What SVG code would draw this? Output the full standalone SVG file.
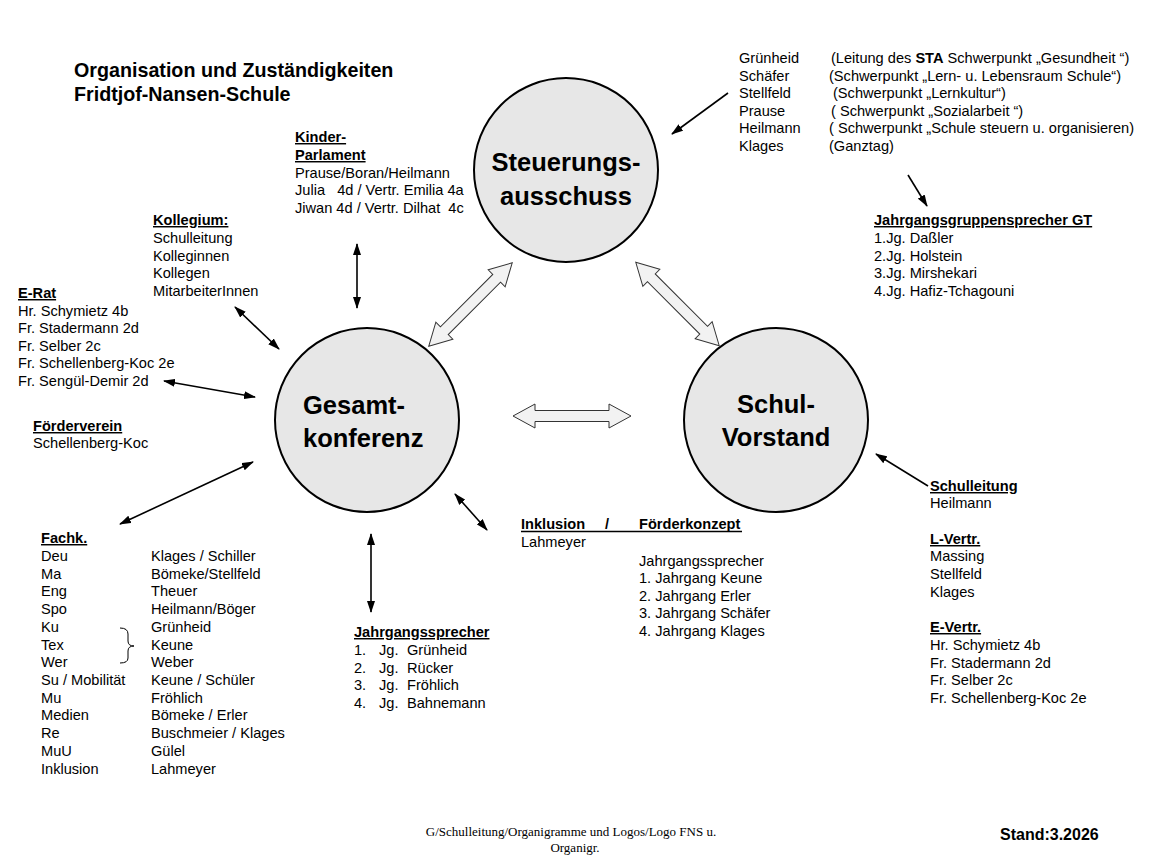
<svg xmlns="http://www.w3.org/2000/svg" width="1163" height="865" viewBox="0 0 1163 865">
<defs>
<marker id="ah" viewBox="0 0 12 8" refX="11" refY="4" markerWidth="12" markerHeight="8" markerUnits="userSpaceOnUse" orient="auto-start-reverse">
<path d="M0,0 L12,4 L0,8 Z" fill="#000"/>
</marker>
<path id="dbl" d="M-59,0 L-37,-12 L-37,-5.5 L37,-5.5 L37,-12 L59,0 L37,12 L37,5.5 L-37,5.5 L-37,12 Z"/>
</defs>
<style>
text{font-family:"Liberation Sans",Arial,sans-serif;font-size:14.6px;fill:#000}
.t{font-size:19.7px;font-weight:bold}
.c{font-size:25.5px;font-weight:bold}
.h{font-weight:bold;text-decoration:underline}
.b{font-weight:bold}
.st{font-weight:bold;font-size:16px}
.ft{font-family:"Liberation Serif","Times New Roman",serif;font-size:13px}
.circ{fill:#e7e7e7;stroke:#000;stroke-width:2}
.ln{stroke:#000;stroke-width:1.6;fill:none}
.big{fill:#f2f2f2;stroke:#333;stroke-width:1}
</style>
<rect width="1163" height="865" fill="#fff"/>

<g id="title">
<text class="t" x="74" y="77">Organisation und Zuständigkeiten</text>
<text class="t" x="74" y="101">Fridtjof-Nansen-Schule</text>
</g>

<g id="steuerungsausschuss">
<circle class="circ" cx="566" cy="170" r="92"/>
<text class="c" x="566" y="171" text-anchor="middle">Steuerungs-</text>
<text class="c" x="566" y="205" text-anchor="middle">ausschuss</text>
</g>

<g id="gesamtkonferenz">
<circle class="circ" cx="367" cy="420" r="92"/>
<text class="c" x="303" y="414">Gesamt-</text>
<text class="c" x="303" y="447">konferenz</text>
</g>

<g id="schulvorstand">
<circle class="circ" cx="776" cy="420" r="92"/>
<text class="c" x="776" y="413" text-anchor="middle">Schul-</text>
<text class="c" x="776" y="446" text-anchor="middle">Vorstand</text>
</g>

<g id="sta-members">
<text x="739" y="63">Grünheid</text><text x="831" y="63">(Leitung des <tspan class="b">STA</tspan> Schwerpunkt „Gesundheit “)</text>
<text x="739" y="81">Schäfer</text><text x="829" y="81">(Schwerpunkt „Lern- u. Lebensraum Schule“)</text>
<text x="739" y="98">Stellfeld</text><text x="833" y="98">(Schwerpunkt „Lernkultur“)</text>
<text x="739" y="116">Prause</text><text x="831" y="116">( Schwerpunkt „Sozialarbeit “)</text>
<text x="739" y="133">Heilmann</text><text x="829" y="133">( Schwerpunkt „Schule steuern u. organisieren)</text>
<text x="739" y="151">Klages</text><text x="829" y="151">(Ganztag)</text>
</g>

<g id="jahrgangsgruppensprecher">
<text class="h" x="874" y="225">Jahrgangsgruppensprecher GT</text>
<text x="874" y="243">1.Jg. Daßler</text>
<text x="874" y="261">2.Jg. Holstein</text>
<text x="874" y="278">3.Jg. Mirshekari</text>
<text x="874" y="296">4.Jg. Hafiz-Tchagouni</text>
</g>

<g id="kinderparlament">
<text class="h" x="295" y="142">Kinder-</text>
<text class="h" x="295" y="160">Parlament</text>
<text x="295" y="178">Prause/Boran/Heilmann</text>
<text x="295" y="195" xml:space="preserve">Julia   4d / Vertr. Emilia 4a</text>
<text x="295" y="213" xml:space="preserve">Jiwan 4d / Vertr. Dilhat  4c</text>
</g>

<g id="kollegium">
<text class="h" x="153" y="225">Kollegium:</text>
<text x="153" y="243">Schulleitung</text>
<text x="153" y="261">Kolleginnen</text>
<text x="153" y="278">Kollegen</text>
<text x="153" y="296">MitarbeiterInnen</text>
</g>

<g id="erat">
<text class="h" x="18" y="298">E-Rat</text>
<text x="18" y="316">Hr. Schymietz 4b</text>
<text x="18" y="333">Fr. Stadermann 2d</text>
<text x="18" y="351">Fr. Selber 2c</text>
<text x="18" y="368">Fr. Schellenberg-Koc 2e</text>
<text x="18" y="386">Fr. Sengül-Demir 2d</text>
</g>

<g id="foerderverein">
<text class="h" x="33" y="431">Förderverein</text>
<text x="33" y="448">Schellenberg-Koc</text>
</g>

<g id="fachk">
<text class="h" x="41" y="543">Fachk.</text>
<text x="41" y="561">Deu</text><text x="151" y="561">Klages / Schiller</text>
<text x="41" y="579">Ma</text><text x="151" y="579">Bömeke/Stellfeld</text>
<text x="41" y="596">Eng</text><text x="151" y="596">Theuer</text>
<text x="41" y="614">Spo</text><text x="151" y="614">Heilmann/Böger</text>
<text x="41" y="632">Ku</text><text x="151" y="632">Grünheid</text>
<text x="41" y="650">Tex</text><text x="151" y="650">Keune</text>
<text x="41" y="667">Wer</text><text x="151" y="667">Weber</text>
<text x="41" y="685">Su / Mobilität</text><text x="151" y="685">Keune / Schüler</text>
<text x="41" y="703">Mu</text><text x="151" y="703">Fröhlich</text>
<text x="41" y="720">Medien</text><text x="151" y="720">Bömeke / Erler</text>
<text x="41" y="738">Re</text><text x="151" y="738">Buschmeier / Klages</text>
<text x="41" y="756">MuU</text><text x="151" y="756">Gülel</text>
<text x="41" y="774">Inklusion</text><text x="151" y="774">Lahmeyer</text>
<path d="M120,628 Q128,628 128,634 L128,641 Q128,646 134,646 Q128,646 128,651 L128,658 Q128,663 120,663" stroke="#000" stroke-width="1" fill="none"/>
</g>

<g id="jahrgangssprecher">
<text class="h" x="354" y="637">Jahrgangssprecher</text>
<text x="354" y="655">1.</text><text x="379" y="655">Jg.</text><text x="407" y="655">Grünheid</text>
<text x="354" y="673">2.</text><text x="379" y="673">Jg.</text><text x="407" y="673">Rücker</text>
<text x="354" y="690">3.</text><text x="379" y="690">Jg.</text><text x="407" y="690">Fröhlich</text>
<text x="354" y="708">4.</text><text x="379" y="708">Jg.</text><text x="407" y="708">Bahnemann</text>
</g>

<g id="inklusion">
<text class="b" x="521" y="529">Inklusion</text>
<text class="b" x="605" y="529">/</text>
<text class="b" x="639" y="529">Förderkonzept</text>
<line x1="521" y1="531.5" x2="742" y2="531.5" stroke="#000" stroke-width="1.3"/>
<text x="521" y="547">Lahmeyer</text>
<text x="639" y="566">Jahrgangssprecher</text>
<text x="639" y="583">1. Jahrgang Keune</text>
<text x="639" y="601">2. Jahrgang Erler</text>
<text x="639" y="618">3. Jahrgang Schäfer</text>
<text x="639" y="636">4. Jahrgang Klages</text>
</g>

<g id="schulvorstand-members">
<text class="h" x="930" y="491">Schulleitung</text>
<text x="930" y="508">Heilmann</text>
<text class="h" x="930" y="544">L-Vertr.</text>
<text x="930" y="561">Massing</text>
<text x="930" y="579">Stellfeld</text>
<text x="930" y="597">Klages</text>
<text class="h" x="930" y="632">E-Vertr.</text>
<text x="930" y="650">Hr. Schymietz 4b</text>
<text x="930" y="668">Fr. Stadermann 2d</text>
<text x="930" y="685">Fr. Selber 2c</text>
<text x="930" y="703">Fr. Schellenberg-Koc 2e</text>
</g>

<g id="footer">
<text class="ft" x="571" y="836" text-anchor="middle">G/Schulleitung/Organigramme und Logos/Logo FNS u.</text>
<text class="ft" x="575" y="852" text-anchor="middle">Organigr.</text>
<text class="st" x="1000" y="840">Stand:3.2026</text>
</g>

<g id="connectors">
<use href="#dbl" class="big" transform="translate(470.5,304.5) rotate(-45)"/>
<use href="#dbl" class="big" transform="translate(677.5,304) rotate(45)"/>
<use href="#dbl" class="big" transform="translate(572,416)"/>
<line class="ln" x1="357" y1="244" x2="357" y2="308" marker-start="url(#ah)" marker-end="url(#ah)"/>
<line class="ln" x1="235" y1="307" x2="279" y2="349" marker-start="url(#ah)" marker-end="url(#ah)"/>
<line class="ln" x1="164" y1="381" x2="255" y2="397" marker-start="url(#ah)" marker-end="url(#ah)"/>
<line class="ln" x1="120" y1="524" x2="253" y2="462" marker-start="url(#ah)" marker-end="url(#ah)"/>
<line class="ln" x1="371" y1="534" x2="371" y2="612" marker-start="url(#ah)" marker-end="url(#ah)"/>
<line class="ln" x1="455" y1="494" x2="487" y2="530" marker-start="url(#ah)" marker-end="url(#ah)"/>
<line class="ln" x1="728" y1="93" x2="672" y2="134" marker-end="url(#ah)"/>
<line class="ln" x1="908" y1="175" x2="927" y2="206" marker-end="url(#ah)"/>
<line class="ln" x1="928" y1="486" x2="876" y2="454" marker-end="url(#ah)"/>
</g>
</svg>
